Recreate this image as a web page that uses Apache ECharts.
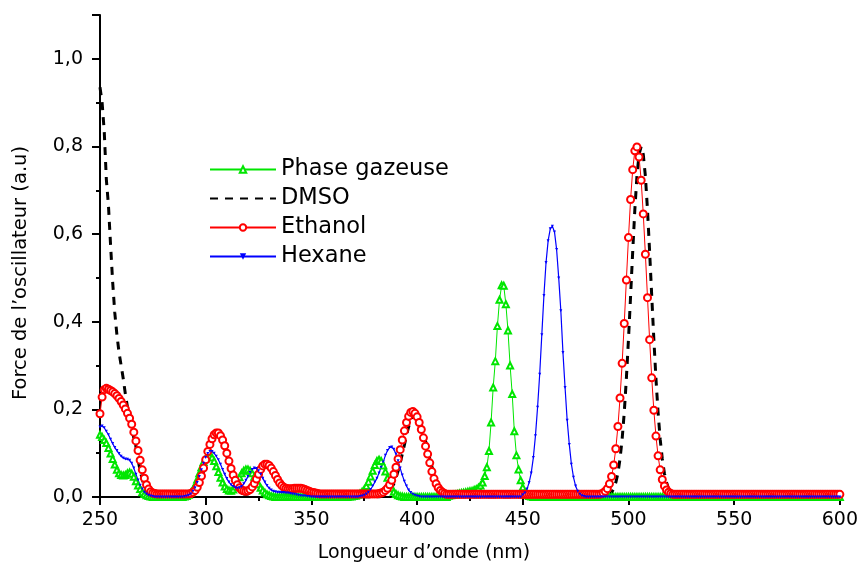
<!DOCTYPE html>
<html>
<head>
<meta charset="utf-8">
<title>Force de l'oscillateur</title>
<script src="https://cdn.jsdelivr.net/npm/echarts@6/dist/echarts.min.js"></script>
<style>
  html, body { margin: 0; padding: 0; background: #fff; }
  #main { width: 861px; height: 566px; }
</style>
</head>
<body>
<div id="main"></div>
<script>
// longueurs d'onde échantillonnées tous les 1 nm (250 -> 600)
const wavelength = []
for (let w = 250; w <= 600; w++) wavelength.push(w)

const seriesNames = ['Phase gazeuse', 'DMSO', 'Ethanol', 'Hexane']
const xTicks = [250, 300, 350, 400, 450, 500, 550, 600]
const yTicks = [0, 0.2, 0.4, 0.6, 0.8, 1.0]

// Phase gazeuse (vert, triangles)
const gasPhase = [
  0.142, 0.137, 0.130, 0.123, 0.112, 0.099, 0.087, 0.074, 0.062, 0.054, // 250
  0.050, 0.049, 0.050, 0.054, 0.056, 0.053, 0.046, 0.036, 0.026, 0.018, // 260
  0.011, 0.007, 0.004, 0.002, 0.001, 0, 0, 0, 0, 0,                     // 270
  0, 0, 0, 0, 0, 0, 0, 0, 0, 0,                                         // 280
  0.001, 0.002, 0.005, 0.010, 0.017, 0.027, 0.040, 0.054, 0.068, 0.080, // 290
  0.088, 0.092, 0.093, 0.090, 0.082, 0.070, 0.057, 0.044, 0.033, 0.024, // 300
  0.018, 0.015, 0.014, 0.017, 0.024, 0.034, 0.045, 0.054, 0.060, 0.063, // 310
  0.063, 0.060, 0.054, 0.046, 0.038, 0.029, 0.021, 0.015, 0.010, 0.006, // 320
  0.004, 0.002, 0.001, 0, 0, 0, 0, 0, 0, 0,                             // 330
  0, 0, 0, 0, 0, 0, 0, 0, 0, 0,                                         // 340
  0, 0, 0, 0, 0, 0, 0, 0, 0, 0,                                         // 350
  0, 0, 0, 0, 0, 0, 0, 0, 0.001, 0.001,                                 // 360
  0.002, 0.003, 0.005, 0.008, 0.012, 0.017, 0.025, 0.035, 0.047, 0.060, // 370
  0.073, 0.082, 0.085, 0.082, 0.072, 0.058, 0.044, 0.031, 0.020, 0.012, // 380
  0.007, 0.004, 0.002, 0.001, 0, 0, 0, 0, 0, 0,                         // 390
  0, 0, 0, 0, 0, 0, 0, 0, 0, 0,                                         // 400
  0, 0, 0, 0, 0, 0.003, 0.004, 0.005, 0.006, 0.007,                     // 410
  0.008, 0.009, 0.010, 0.011, 0.012, 0.013, 0.014, 0.016, 0.018, 0.021, // 420
  0.026, 0.033, 0.048, 0.068, 0.105, 0.170, 0.250, 0.310, 0.390, 0.450, // 430
  0.483, 0.482, 0.440, 0.380, 0.300, 0.235, 0.150, 0.095, 0.063, 0.038, // 440
  0.022, 0.010, 0.005, 0.002, 0.001, 0, 0, 0, 0, 0,                     // 450
  0, 0, 0, 0, 0, 0, 0, 0, 0, 0,                                         // 460
  0, 0, 0, 0, 0, 0, 0, 0, 0, 0,                                         // 470
  0, 0, 0, 0, 0, 0, 0, 0, 0, 0,                                         // 480
  0, 0, 0, 0, 0, 0, 0, 0, 0, 0,                                         // 490
  0, 0, 0, 0, 0, 0, 0, 0, 0, 0,                                         // 500
  0, 0, 0, 0, 0, 0, 0, 0, 0, 0,                                         // 510
  0, 0, 0, 0, 0, 0, 0, 0, 0, 0,                                         // 520
  0, 0, 0, 0, 0, 0, 0, 0, 0, 0,                                         // 530
  0, 0, 0, 0, 0, 0, 0, 0, 0, 0,                                         // 540
  0, 0, 0, 0, 0, 0, 0, 0, 0, 0,                                         // 550
  0, 0, 0, 0, 0, 0, 0, 0, 0, 0,                                         // 560
  0, 0, 0, 0, 0, 0, 0, 0, 0, 0,                                         // 570
  0, 0, 0, 0, 0, 0, 0, 0, 0, 0,                                         // 580
  0, 0, 0, 0, 0, 0, 0, 0, 0, 0,                                         // 590
  0                                                                     // 600
]

// DMSO (noir, tirets)
const dmso = [
  0.935, 0.900, 0.835, 0.725, 0.665, 0.575, 0.490, 0.420, 0.370, 0.330, // 250
  0.300, 0.270, 0.235, 0.205, 0.180, 0.155, 0.135, 0.115, 0.085, 0.060, // 260
  0.040, 0.025, 0.015, 0.008, 0.004, 0.002, 0, 0, 0, 0,                 // 270
  0, 0, 0, 0, 0, 0, 0, 0, 0, 0,                                         // 280
  0, 0, 0, 0.001, 0.004, 0.008, 0.015, 0.026, 0.041, 0.059,             // 290
  0.078, 0.097, 0.113, 0.126, 0.135, 0.139, 0.139, 0.133, 0.123, 0.110, // 300
  0.093, 0.075, 0.058, 0.043, 0.031, 0.021, 0.014, 0.009, 0.007, 0.006, // 310
  0.007, 0.010, 0.016, 0.024, 0.034, 0.045, 0.056, 0.064, 0.068, 0.068, // 320
  0.065, 0.059, 0.051, 0.042, 0.033, 0.025, 0.019, 0.015, 0.013, 0.012, // 330
  0.012, 0.012, 0.013, 0.013, 0.013, 0.013, 0.012, 0.010, 0.008, 0.006, // 340
  0.004, 0.003, 0.002, 0.001, 0, 0, 0, 0, 0, 0,                         // 350
  0, 0, 0, 0, 0, 0, 0, 0, 0, 0,                                         // 360
  0, 0, 0, 0, 0, 0, 0, 0, 0, 0,                                         // 370
  0, 0, 0, 0.001, 0.003, 0.005, 0.009, 0.014, 0.021, 0.030,             // 380
  0.043, 0.059, 0.077, 0.098, 0.119, 0.141, 0.160, 0.175, 0.185, 0.188, // 390
  0.185, 0.177, 0.164, 0.147, 0.128, 0.108, 0.088, 0.070, 0.054, 0.040, // 400
  0.029, 0.021, 0.014, 0.009, 0.006, 0.004, 0.002, 0.001, 0, 0,         // 410
  0, 0, 0, 0, 0, 0, 0, 0, 0, 0,                                         // 420
  0, 0, 0, 0, 0, 0, 0, 0, 0, 0,                                         // 430
  0, 0, 0, 0, 0, 0, 0, 0, 0, 0,                                         // 440
  0, 0, 0, 0, 0, 0, 0, 0, 0, 0,                                         // 450
  0, 0, 0, 0, 0, 0, 0, 0, 0, 0,                                         // 460
  0, 0, 0, 0, 0, 0, 0, 0, 0, 0,                                         // 470
  0, 0, 0, 0, 0, 0, 0, 0, 0.001, 0.002,                                 // 480
  0.003, 0.005, 0.010, 0.019, 0.033, 0.054, 0.087, 0.132, 0.193, 0.270, // 490
  0.360, 0.459, 0.560, 0.655, 0.732, 0.782, 0.800, 0.782, 0.732, 0.655, // 500
  0.560, 0.459, 0.360, 0.270, 0.193, 0.132, 0.087, 0.054, 0.033, 0.019, // 510
  0.010, 0.005, 0.003, 0.001, 0, 0, 0, 0, 0, 0,                         // 520
  0, 0, 0, 0, 0, 0, 0, 0, 0, 0,                                         // 530
  0, 0, 0, 0, 0, 0, 0, 0, 0, 0,                                         // 540
  0, 0, 0, 0, 0, 0, 0, 0, 0, 0,                                         // 550
  0, 0, 0, 0, 0, 0, 0, 0, 0, 0,                                         // 560
  0, 0, 0, 0, 0, 0, 0, 0, 0, 0,                                         // 570
  0, 0, 0, 0, 0, 0, 0, 0, 0, 0,                                         // 580
  0, 0, 0, 0, 0, 0, 0, 0, 0, 0,                                         // 590
  0                                                                     // 600
]

// Ethanol (rouge, cercles)
const ethanol = [
  0.190, 0.228, 0.245, 0.248, 0.246, 0.243, 0.240, 0.236, 0.231, 0.225, // 250
  0.218, 0.210, 0.201, 0.191, 0.180, 0.166, 0.148, 0.128, 0.106, 0.084, // 260
  0.062, 0.043, 0.028, 0.018, 0.012, 0.009, 0.008, 0.007, 0.007, 0.007, // 270
  0.007, 0.007, 0.007, 0.007, 0.007, 0.007, 0.007, 0.007, 0.007, 0.007, // 280
  0.007, 0.007, 0.007, 0.008, 0.011, 0.015, 0.022, 0.033, 0.048, 0.066, // 290
  0.085, 0.104, 0.120, 0.133, 0.142, 0.146, 0.146, 0.140, 0.130, 0.117, // 300
  0.100, 0.082, 0.065, 0.050, 0.038, 0.028, 0.021, 0.016, 0.014, 0.013, // 310
  0.014, 0.017, 0.023, 0.031, 0.041, 0.052, 0.063, 0.071, 0.075, 0.075, // 320
  0.072, 0.066, 0.058, 0.049, 0.040, 0.032, 0.026, 0.022, 0.020, 0.019, // 330
  0.019, 0.019, 0.020, 0.020, 0.020, 0.020, 0.019, 0.017, 0.015, 0.013, // 340
  0.011, 0.010, 0.009, 0.008, 0.007, 0.007, 0.007, 0.007, 0.007, 0.007, // 350
  0.007, 0.007, 0.007, 0.007, 0.007, 0.007, 0.007, 0.007, 0.007, 0.007, // 360
  0.007, 0.007, 0.007, 0.007, 0.007, 0.007, 0.007, 0.007, 0.007, 0.007, // 370
  0.007, 0.007, 0.008, 0.009, 0.011, 0.015, 0.020, 0.028, 0.038, 0.052, // 380
  0.068, 0.087, 0.108, 0.130, 0.151, 0.170, 0.184, 0.193, 0.195, 0.191, // 390
  0.183, 0.170, 0.154, 0.135, 0.116, 0.098, 0.078, 0.058, 0.042, 0.030, // 400
  0.021, 0.015, 0.011, 0.008, 0.006, 0.006, 0.006, 0.006, 0.006, 0.006, // 410
  0.006, 0.006, 0.006, 0.006, 0.006, 0.006, 0.006, 0.006, 0.006, 0.006, // 420
  0.006, 0.006, 0.006, 0.006, 0.006, 0.006, 0.006, 0.006, 0.006, 0.006, // 430
  0.006, 0.006, 0.006, 0.006, 0.006, 0.006, 0.006, 0.006, 0.006, 0.006, // 440
  0.006, 0.006, 0.006, 0.006, 0.006, 0.006, 0.006, 0.006, 0.006, 0.006, // 450
  0.006, 0.006, 0.006, 0.006, 0.006, 0.006, 0.006, 0.006, 0.006, 0.006, // 460
  0.006, 0.006, 0.006, 0.006, 0.006, 0.006, 0.006, 0.006, 0.006, 0.006, // 470
  0.006, 0.006, 0.006, 0.006, 0.006, 0.006, 0.006, 0.007, 0.009, 0.013, // 480
  0.019, 0.030, 0.047, 0.073, 0.110, 0.161, 0.226, 0.305, 0.396, 0.495, // 490
  0.592, 0.679, 0.747, 0.790, 0.799, 0.776, 0.723, 0.646, 0.554, 0.455, // 500
  0.359, 0.272, 0.198, 0.139, 0.094, 0.062, 0.040, 0.025, 0.016, 0.011, // 510
  0.008, 0.006, 0.006, 0.006, 0.006, 0.006, 0.006, 0.006, 0.006, 0.006, // 520
  0.006, 0.006, 0.006, 0.006, 0.006, 0.006, 0.006, 0.006, 0.006, 0.006, // 530
  0.006, 0.006, 0.006, 0.006, 0.006, 0.006, 0.006, 0.006, 0.006, 0.006, // 540
  0.006, 0.006, 0.006, 0.006, 0.006, 0.006, 0.006, 0.006, 0.006, 0.006, // 550
  0.006, 0.006, 0.006, 0.006, 0.006, 0.006, 0.006, 0.006, 0.006, 0.006, // 560
  0.006, 0.006, 0.006, 0.006, 0.006, 0.006, 0.006, 0.006, 0.006, 0.006, // 570
  0.006, 0.006, 0.006, 0.006, 0.006, 0.006, 0.006, 0.006, 0.006, 0.006, // 580
  0.006, 0.006, 0.006, 0.006, 0.006, 0.006, 0.006, 0.006, 0.006, 0.006, // 590
  0.006                                                                 // 600
]

// Hexane (bleu, petits triangles)
const hexane = [
  0.160, 0.162, 0.158, 0.150, 0.142, 0.132, 0.122, 0.113, 0.106, 0.099, // 250
  0.093, 0.089, 0.087, 0.086, 0.084, 0.077, 0.066, 0.052, 0.039, 0.027, // 260
  0.018, 0.011, 0.007, 0.004, 0.002, 0.001, 0, 0, 0, 0,                 // 270
  0, 0, 0, 0, 0, 0, 0, 0, 0, 0,                                         // 280
  0.001, 0.002, 0.004, 0.007, 0.013, 0.021, 0.033, 0.047, 0.062, 0.077, // 290
  0.090, 0.099, 0.104, 0.104, 0.100, 0.093, 0.085, 0.075, 0.063, 0.052, // 300
  0.042, 0.034, 0.028, 0.024, 0.021, 0.020, 0.021, 0.024, 0.030, 0.038, // 310
  0.047, 0.056, 0.063, 0.066, 0.065, 0.060, 0.052, 0.043, 0.034, 0.026, // 320
  0.020, 0.016, 0.013, 0.012, 0.011, 0.011, 0.010, 0.010, 0.009, 0.009, // 330
  0.008, 0.007, 0.006, 0.005, 0.004, 0.003, 0.002, 0.002, 0.001, 0.001, // 340
  0, 0, 0, 0, 0, 0, 0, 0, 0, 0,                                         // 350
  0, 0, 0, 0, 0, 0, 0, 0, 0, 0,                                         // 360
  0, 0, 0, 0.001, 0.002, 0.004, 0.007, 0.011, 0.017, 0.025,             // 370
  0.034, 0.043, 0.055, 0.068, 0.080, 0.095, 0.106, 0.113, 0.114, 0.109, // 380
  0.098, 0.083, 0.066, 0.050, 0.036, 0.025, 0.016, 0.010, 0.006, 0.004, // 390
  0.002, 0.001, 0, 0, 0, 0, 0, 0, 0, 0,                                 // 400
  0, 0, 0, 0, 0, 0, 0, 0, 0, 0,                                         // 410
  0, 0, 0, 0, 0, 0, 0, 0, 0, 0,                                         // 420
  0, 0, 0, 0, 0, 0, 0, 0, 0, 0,                                         // 430
  0, 0, 0, 0, 0, 0, 0, 0, 0, 0,                                         // 440
  0.005, 0.009, 0.018, 0.033, 0.055, 0.090, 0.140, 0.205, 0.280, 0.370, // 450
  0.460, 0.535, 0.585, 0.612, 0.618, 0.605, 0.565, 0.500, 0.425, 0.330, // 460
  0.250, 0.175, 0.120, 0.075, 0.045, 0.025, 0.013, 0.006, 0.003, 0.001, // 470
  0, 0, 0, 0, 0, 0, 0, 0, 0, 0,                                         // 480
  0, 0, 0, 0, 0, 0, 0, 0, 0, 0,                                         // 490
  0, 0, 0, 0, 0, 0, 0, 0, 0, 0,                                         // 500
  0, 0, 0, 0, 0, 0, 0, 0, 0, 0,                                         // 510
  0, 0, 0, 0, 0, 0, 0, 0, 0, 0,                                         // 520
  0, 0, 0, 0, 0, 0, 0, 0, 0, 0,                                         // 530
  0, 0, 0, 0, 0, 0, 0, 0, 0, 0,                                         // 540
  0, 0, 0, 0, 0, 0, 0, 0, 0, 0,                                         // 550
  0, 0, 0, 0, 0, 0, 0, 0, 0, 0,                                         // 560
  0, 0, 0, 0, 0, 0, 0, 0, 0, 0,                                         // 570
  0, 0, 0, 0, 0, 0, 0, 0, 0, 0,                                         // 580
  0, 0, 0, 0, 0, 0, 0, 0, 0, 0,                                         // 590
  0                                                                     // 600
]

const FONT = 'DejaVu Sans'

// associe chaque valeur à sa longueur d'onde
const pairs = values => wavelength.map((w, i) => [w, values[i]])

const chart = echarts.init(document.getElementById('main'), null, { renderer: 'canvas' })

const axisCommon = {
  axisLine: { show: true, lineStyle: { color: '#000', width: 2 } },
  axisTick: { show: true, inside: false, length: 8, lineStyle: { color: '#000', width: 2 } },
  minorTick: { show: true, splitNumber: 2, length: 4, lineStyle: { color: '#000', width: 2 } },
  splitLine: { show: false },
  minorSplitLine: { show: false }
}

const option = {
  animation: false,
  backgroundColor: '#fff',
  grid: { left: 100, right: 20, top: 15, bottom: 69, containLabel: false },
  legend: {
    orient: 'vertical',
    left: 204,
    top: 153,
    itemWidth: 66,
    itemHeight: 8,
    itemGap: 6,
    // pas de symbole pour DMSO, seulement les tirets
    data: seriesNames.map(name => name === 'DMSO'
      ? { name, itemStyle: { opacity: 0 } }
      : { name }),
    textStyle: { fontFamily: FONT, fontSize: 22.5, lineHeight: 22, color: '#000' }
  },
  xAxis: {
    type: 'value',
    min: xTicks[0],
    max: xTicks[xTicks.length - 1],
    interval: 50,
    ...axisCommon,
    axisLabel: { color: '#000', fontFamily: FONT, fontSize: 19, margin: 14 }
  },
  yAxis: {
    type: 'value',
    min: yTicks[0],
    max: 1.1,
    interval: 0.2,
    ...axisCommon,
    axisLabel: {
      color: '#000', fontFamily: FONT, fontSize: 19, margin: 17,
      showMaxLabel: false,
      formatter: v => v.toFixed(1).replace('.', ',')
    }
  },
  graphic: [
    {
      type: 'text', x: 424, y: 553,
      style: { text: 'Longueur d’onde (nm)', fontFamily: FONT, fontSize: 19, fill: '#000', textAlign: 'center', textVerticalAlign: 'middle' }
    },
    {
      type: 'text', x: 21, y: 273, rotation: Math.PI / 2,
      style: { text: 'Force de l’oscillateur (a.u)', fontFamily: FONT, fontSize: 19.5, fill: '#000', textAlign: 'center', textVerticalAlign: 'middle' }
    }
  ],
  series: [
    {
      name: seriesNames[0],
      type: 'line',
      data: pairs(gasPhase),
      symbol: 'emptyTriangle',
      symbolSize: 6,
      showAllSymbol: true,
      lineStyle: { color: '#00e600', width: 1 },
      itemStyle: { color: '#00e600', borderColor: '#00e600', borderWidth: 1 }
    },
    {
      name: seriesNames[1],
      type: 'line',
      data: pairs(dmso),
      symbol: 'none',
      showSymbol: false,
      lineStyle: { color: '#000', width: 3, type: [8, 7] },
      itemStyle: { color: '#000' }
    },
    {
      name: seriesNames[2],
      type: 'line',
      data: pairs(ethanol),
      symbol: 'emptyCircle',
      symbolSize: 7,
      showAllSymbol: true,
      lineStyle: { color: '#ff0000', width: 1 },
      itemStyle: { color: '#ff0000', borderColor: '#ff0000', borderWidth: 1.2 }
    },
    {
      name: seriesNames[3],
      type: 'line',
      data: pairs(hexane),
      symbol: 'triangle',
      symbolRotate: 180,
      symbolSize: 3,
      showAllSymbol: true,
      lineStyle: { color: '#0000ff', width: 1.2 },
      itemStyle: { color: '#0000ff' }
    }
  ]
}

chart.setOption(option)
</script>
</body>
</html>
